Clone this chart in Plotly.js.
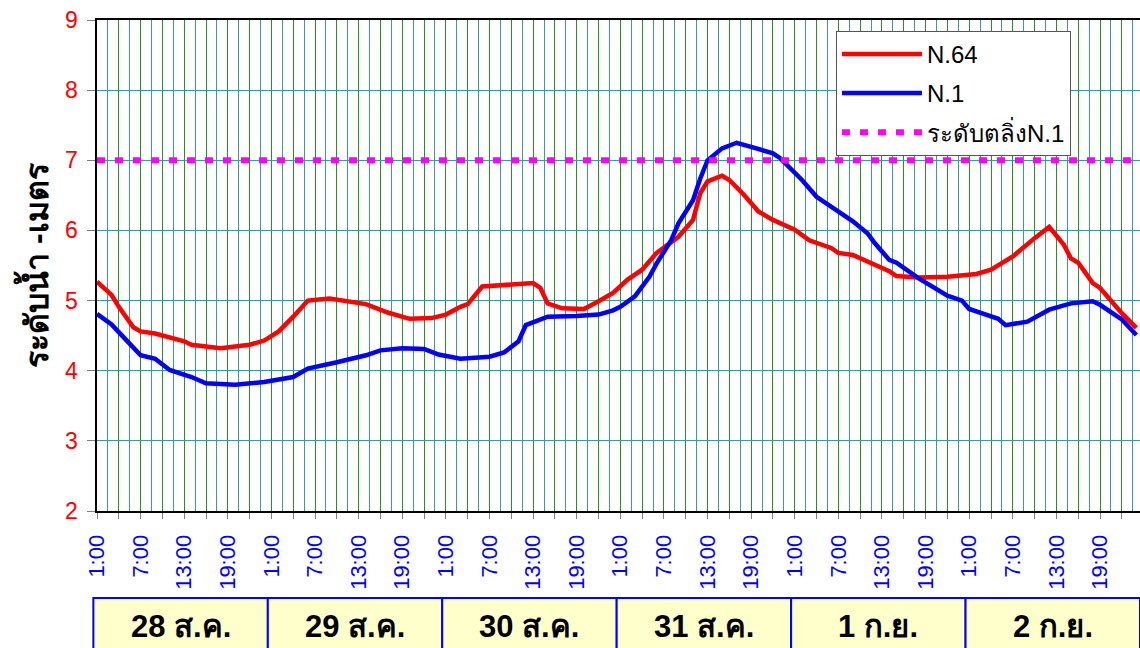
<!DOCTYPE html>
<html>
<head>
<meta charset="utf-8">
<script src="https://cdn.plot.ly/plotly-3.0.1.min.js"></script>
<style>
  html, body { margin: 0; padding: 0; background: #fff; }
  #chart { width: 1140px; height: 648px; }
</style>
</head>
<body>
<div id="chart"></div>
<script>
// hours counted from 28 ส.ค. 1:00
var dayLabels = ['28 ส.ค.', '29 ส.ค.', '30 ส.ค.', '31 ส.ค.', '1 ก.ย.', '2 ก.ย.'];
var hourLabels = ['1:00', '7:00', '13:00', '19:00'];

var hoursN64 = [0,2,3,5,6,8,12,13,17,21, 23,25,27,29,32,35,37,40,43,46,
  48,50,51,53,55,60,61,62,64,67, 69,71,73,75,77,80,82,83,84,86,
  87,89,91,93,96,98,101,102,104,107, 109,110,113,117,121,123,126,129,131,133,
  134,135,137,138,141,143];
var levelN64 = [5.27,5.08,4.91,4.62,4.56,4.53,4.42,4.37,4.32,4.37, 4.43,4.56,4.77,5.00,5.03,4.99,4.95,4.83,4.74,4.75,
  4.80,4.91,4.95,5.20,5.21,5.25,5.18,4.96,4.89,4.88, 4.99,5.11,5.30,5.44,5.68,5.91,6.15,6.53,6.70,6.78,
  6.72,6.51,6.27,6.15,6.01,5.86,5.75,5.68,5.65,5.51, 5.42,5.35,5.33,5.34,5.38,5.44,5.63,5.89,6.05,5.80,
  5.60,5.54,5.25,5.18,4.82,4.61];

var hoursN1 = [0,2,4,6,8,10,13,15,19,23, 27,29,33,37,39,42,45,47,50,52,
  54,56,58,59,62,66,69,71,72,74, 76,77,79,80,82,83,84,86,88,90,
  93,94,97,99,102,104,106,107,109,110, 113,115,117,119,120,122,124,125,128,131,
  134,137,138,141,143];
var levelN1 = [4.81,4.66,4.44,4.22,4.17,4.01,3.91,3.82,3.80,3.84, 3.91,4.03,4.12,4.22,4.29,4.32,4.31,4.23,4.17,4.18,
  4.20,4.26,4.42,4.65,4.77,4.78,4.80,4.86,4.91,5.06, 5.34,5.53,5.86,6.10,6.43,6.74,7.00,7.17,7.25,7.19,
  7.10,7.03,6.72,6.48,6.27,6.13,5.96,5.82,5.58,5.54, 5.32,5.19,5.07,5.00,4.88,4.81,4.74,4.65,4.70,4.87,
  4.96,4.99,4.94,4.73,4.51];

var bankLevel = 7;

var xRange = [0, 143.5];
var font = 'Liberation Sans, Arial, sans-serif';

var tickVals = [], tickText = [];
for (var h = 0; h < 144; h += 3) {
  tickVals.push(h);
  tickText.push(h % 6 == 0 ? hourLabels[(h / 6) % 4] : '');
}

function toPaper(h) { return (h - xRange[0]) / (xRange[1] - xRange[0]); }

var shapes = [], annotations = [];
for (var d = 0; d < dayLabels.length; d++) {
  var a = toPaper(24 * d - 0.5), b = toPaper(24 * d + 23.5);
  shapes.push({
    type: 'rect', xref: 'paper', yref: 'paper',
    x0: a, x1: b, y0: -0.30, y1: -0.177,
    line: {color: '#0000ff', width: 2}, fillcolor: '#ffffcc'
  });
  annotations.push({
    xref: 'paper', yref: 'paper', x: (a + b) / 2, y: -0.236,
    xanchor: 'center', yanchor: 'middle',
    text: '<b>' + dayLabels[d] + '</b>', showarrow: false,
    font: {family: font, size: 31, color: '#000'}
  });
}

// y axis title, placed by hand like the original sheet
annotations.push({
  xref: 'paper', yref: 'paper', x: -0.061, y: 0.5,
  xanchor: 'center', yanchor: 'middle', textangle: -90,
  text: '<b>ระดับน้ำ -เมตร</b>', showarrow: false,
  font: {family: font, size: 32, color: '#000'}
});

var traces = [
  {x: hoursN64, y: levelN64, name: 'N.64', legendgroup: 'a', mode: 'lines',
   line: {color: '#ff0000', width: 4.5}},
  {x: hoursN1, y: levelN1, name: 'N.1', legendgroup: 'b', mode: 'lines',
   line: {color: '#0000ff', width: 4.5}},
  {x: [0, 144], y: [bankLevel, bankLevel], name: 'ระดับตลิ่งN.1', legendgroup: 'c', mode: 'lines',
   line: {color: '#ff00ff', width: 6, dash: '8px,10px'}}
];

var layout = {
  width: 1140, height: 648,
  margin: {l: 97, r: 0, t: 20, b: 137},
  paper_bgcolor: '#fff', plot_bgcolor: '#fff',
  font: {family: font},
  showlegend: true,
  legend: {
    x: 0.7085, y: 0.978, xanchor: 'left', yanchor: 'top',
    bgcolor: '#fff', bordercolor: '#555', borderwidth: 1,
    font: {family: font, size: 24, color: '#000'},
    itemwidth: 80, tracegroupgap: 5
  },
  xaxis: {
    range: xRange, tickmode: 'array', tickvals: tickVals, ticktext: tickText,
    tickangle: -90, tickfont: {family: font, size: 22, color: '#0000ff'},
    ticks: 'outside', ticklen: 6, tickcolor: '#808080', ticklabelstandoff: 7,
    showgrid: true, gridcolor: '#2a8f2a', gridwidth: 1,
    minor: {dtick: 1.5, tick0: 0, showgrid: true, gridcolor: '#3c9a9a', gridwidth: 1, ticks: ''},
    showline: true, linecolor: '#000', linewidth: 2, mirror: true,
    zeroline: false
  },
  yaxis: {
    range: [2, 9], dtick: 1,
    tickfont: {family: font, size: 23, color: '#ff0000'},
    ticks: 'outside', ticklen: 8, tickcolor: '#808080', ticklabelstandoff: 4,
    showgrid: true, gridcolor: '#3c9a9a', gridwidth: 1,
    showline: true, linecolor: '#000', linewidth: 2.5, mirror: true,
    zeroline: false
  },
  shapes: shapes,
  annotations: annotations
};

Plotly.newPlot('chart', traces, layout, {displayModeBar: false, staticPlot: true});
</script>
</body>
</html>
